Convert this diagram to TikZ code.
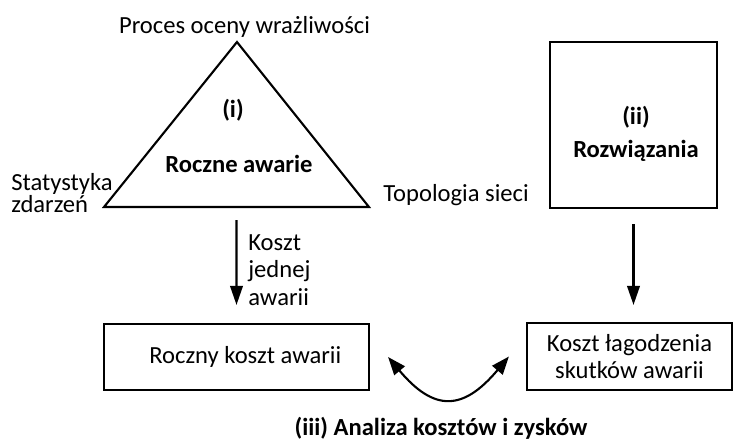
\documentclass[tikz,border=0pt]{standalone}
\usepackage{fontspec}
\setmainfont{Carlito}
\usetikzlibrary{arrows.meta,calc}

\begin{document}
\begin{tikzpicture}[font=\fontsize{14}{15.6}\selectfont,
    txt/.style={inner sep=0pt},
    box/.style={draw, line width=1.2pt, inner sep=0pt},
    tip/.style={-{Triangle[length=0.38cm,width=0.25cm]}, line width=1.2pt}]
  \useasboundingbox (0,0) rectangle (14.68,8.82);

  \coordinate (TA) at (4.74,7.98);
  \coordinate (TL) at (2.08,4.68);
  \coordinate (TR) at (7.38,4.68);
  \coordinate (TM) at ($(TL)!0.5!(TR)$);

  \draw[line width=1.2pt] (TA) -- (TL) -- (TR) -- cycle;

  \node[txt] (proc) at (4.89,8.28) {Proces oceny wrażliwości};
  \node[txt] (i) at (4.66,6.62) {\bfseries (i)};
  \node[txt] (roczne) at (4.78,5.55) {\bfseries Roczne awarie};
  \node[txt, anchor=west, align=left] (stat) at (0.22,4.96) {Statystyka\\[-2.6pt]zdarzeń};
  \node[txt, anchor=west] (topo) at (7.66,4.92) {Topologia sieci};

  \node[box, minimum width=3.34cm, minimum height=3.32cm] (sol) at (12.67,6.32) {};
  \node[txt, align=center, font=\fontsize{14}{15.6}\selectfont\bfseries] (soltxt) at (12.72,6.14) {(ii)\\[3pt]Rozwiązania};

  \node[box, minimum width=5.3cm, minimum height=1.32cm] (roczny) at (4.73,1.68) {\hspace*{0.35cm}Roczny koszt awarii};
  \node[box, minimum width=4.1cm, minimum height=1.34cm, align=center] (mit) at (12.59,1.69) {Koszt łagodzenia\\skutków awarii};

  \node[txt, anchor=west, align=left] (jedn) at (4.96,3.42) {Koszt\\jednej\\awarii};
  \node[txt] (anal) at (8.82,0.26) {\bfseries (iii) Analiza kosztów i zysków};

  \draw[tip, shorten <=0.26cm, shorten >=0.36cm] (TM) -- (roczny.north);
  \draw[tip, shorten <=0.30cm, shorten >=0.34cm] (sol.south) -- (sol.south |- mit.north);

  \coordinate (cl) at ([xshift=0.36cm]roczny.east);
  \coordinate (cr) at ([xshift=-0.34cm]mit.west);
  \draw[{Triangle[length=0.36cm,width=0.27cm]}-{Triangle[length=0.36cm,width=0.27cm]}, line width=1.2pt]
    (cl) .. controls +(-50:1.43) and +(-130:1.43) .. (cr);
\end{tikzpicture}
\end{document}
